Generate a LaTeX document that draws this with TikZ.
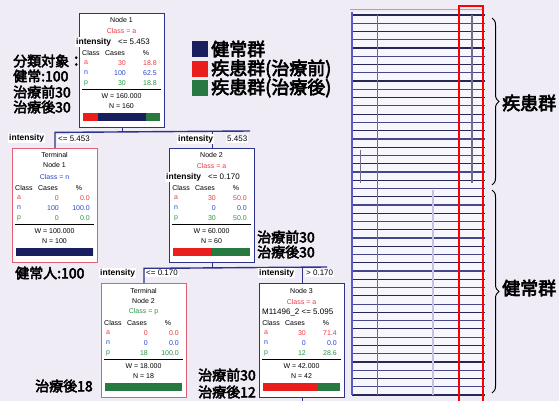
\documentclass[tikz,border=0pt]{standalone}
\usepackage{fontspec}
\setmainfont{Liberation Sans}
\newfontfamily\cjk[FakeBold=3.5]{Noto Sans CJK JP}
\usetikzlibrary{calc,decorations.pathreplacing}
\definecolor{bgc}{RGB}{240,236,246}
\definecolor{tabbg}{RGB}{247,246,252}
\definecolor{navyb}{RGB}{45,50,140}
\definecolor{termb}{RGB}{225,95,115}
\definecolor{tred}{RGB}{235,60,70}
\definecolor{tblue}{RGB}{40,70,210}
\definecolor{tgreen}{RGB}{40,150,70}
\definecolor{barred}{RGB}{235,30,30}
\definecolor{barnavy}{RGB}{25,30,95}
\definecolor{bargreen}{RGB}{40,120,65}
\definecolor{tabdark}{RGB}{40,40,85}
\definecolor{tablight}{RGB}{70,70,140}
\definecolor{tabedge}{RGB}{90,90,200}
\definecolor{tabtop}{RGB}{190,160,140}
\definecolor{tabvert}{RGB}{110,110,140}
\definecolor{tabfaint}{RGB}{195,195,225}

\tikzset{
  treebox/.style={draw, fill=white, minimum width=85pt, minimum height=114pt,
    anchor=north west, inner sep=0pt},
  inbox/.style={treebox, draw=navyb, line width=1.4pt},
  termbox/.style={treebox, draw=termb, line width=1pt},
  ntext/.style={font=\fontsize{7}{8}\selectfont, inner sep=0pt},
  numr/.style={ntext, anchor=east},
  splitlab/.style={fill=white, inner sep=1pt, anchor=west, font=\fontsize{8}{9}\selectfont},
  edgelab/.style={fill=white, inner sep=1pt, anchor=west, font=\fontsize{8}{9}\selectfont},
  edgebold/.style={edgelab, font=\bfseries\fontsize{8.5}{9}\selectfont},
  cjklab/.style={font=\cjk\fontsize{14}{15}\selectfont, inner sep=0pt, anchor=west},
  cjkbig/.style={font=\cjk\fontsize{18}{19}\selectfont, inner sep=0pt, anchor=west},
  conn/.style={draw=navyb, line width=1.4pt},
  legsq/.style={minimum size=16pt, inner sep=0pt, anchor=north west},
}

\newcommand\nodestats[9]{%
  \node[ntext] (#1-hc) at ($(#1.north west)+(12,40)$) {Class};
  \node[ntext] (#1-hk) at ($(#1.north west)+(36,40)$) {Cases};
  \node[ntext] (#1-hp) at ($(#1.north west)+(67,40)$) {\%};
  \node[ntext,text=tred] (#1-la) at ($(#1.north west)+(7,50)$) {a};
  \node[numr,text=tred] (#1-ca) at ($(#1.north west)+(47,50)$) {#2};
  \node[numr,text=tred] (#1-pa) at ($(#1.north west)+(78,50)$) {#3};
  \node[ntext,text=tblue] (#1-ln) at ($(#1.north west)+(7,60)$) {n};
  \node[numr,text=tblue] (#1-cn) at ($(#1.north west)+(47,60)$) {#4};
  \node[numr,text=tblue] (#1-pn) at ($(#1.north west)+(78,60)$) {#5};
  \node[ntext,text=tgreen] (#1-lp) at ($(#1.north west)+(7,70)$) {p};
  \node[numr,text=tgreen] (#1-cp) at ($(#1.north west)+(47,70)$) {#6};
  \node[numr,text=tgreen] (#1-pp) at ($(#1.north west)+(78,70)$) {#7};
  \draw[line width=0.8pt] ($(#1.north west)+(3,76)$) -- ($(#1.north west)+(82,76)$);
  \node[ntext] (#1-w) at ($(#1.north west)+(42.5,83)$) {W = #8};
  \node[ntext] (#1-nn) at ($(#1.north west)+(42.5,93)$) {N = #9};
}
\newcommand\nodebar[4]{%
  \coordinate (#1-b0) at ($(#1.north west)+(4,100)$);
  \fill[barred] (#1-b0) rectangle ++(#2,8);
  \fill[barnavy] ($(#1-b0)+(#2,0)$) rectangle ++(#3,8);
  \fill[bargreen] ($(#1-b0)+(#2+#3,0)$) rectangle ++(#4,8);
}

\begin{document}
\begin{tikzpicture}[x=1pt,y=-1pt]
\useasboundingbox (0,0) rectangle (559,401);
\fill[bgc] (0,0) rectangle (559,401);

% ---------- table on the right ----------
\fill[tabbg] (352,12) rectangle (485,395);
\draw[tabtop, line width=1pt] (350,10) -- (483,10);
\foreach \i in {0,2,...,46} \draw[tabdark, line width=1.2pt] (352,15+\i*8.26) -- (485,15+\i*8.26);
\foreach \i in {1,3,...,45} \draw[tablight, line width=1.2pt] (352,15+\i*8.26) -- (485,15+\i*8.26);
\draw[tabedge, line width=1.2pt] (352,12) -- (352,395);
\draw[tabvert, line width=1pt] (377,15) -- (377,395);
\draw[tabfaint, line width=2pt] (433,190) -- (433,395);
\draw[tabvert, line width=1.5pt] (472,15) -- (472,183);
\draw[tabvert, line width=1pt] (360,150) -- (360,183);
\draw[red, line width=1.5pt] (459,6) rectangle (483,410);
\draw[decorate, decoration={brace, amplitude=7pt}, line width=1pt] (492,18) -- (492,185);
\draw[decorate, decoration={brace, amplitude=7pt}, line width=1pt] (492,190) -- (492,393);
\node[cjkbig] (rl1) at (502,103) {疾患群};
\node[cjkbig] (rl2) at (502,288) {健常群};

% ---------- legend ----------
\node[legsq, fill=barnavy] (lg1) at (192,41) {};
\node[legsq, fill=barred] (lg2) at (192,61) {};
\node[legsq, fill=bargreen] (lg3) at (192,80) {};
\node[cjkbig] (lt1) at (211,49) {健常群};
\node[cjkbig] (lt2) at (211,69) {疾患群(治療前)};
\node[cjkbig] (lt3) at (211,88) {疾患群(治療後)};

% ---------- tree boxes ----------
\node[inbox] (n1) at (79,13) {};
\node[termbox] (t1) at (12,148) {};
\node[inbox] (n2) at (169,148) {};
\node[termbox] (t2) at (101,283) {};
\node[inbox] (n3) at (259,283) {};

% ---------- connectors ----------
\coordinate (h1) at ($(n1.south)+(0,4)$);
\coordinate (h1e) at (250,131);
\draw[conn] (n1.south) -- (h1);
\draw[conn] (t1.north) -- (t1.north |- h1) -- (h1e);
\draw[conn] (n2.north) -- (n2.north |- h1);
\coordinate (h2) at ($(n2.south)+(0,5)$);
\coordinate (h2e) at (327,267);
\draw[conn] (n2.south) -- (h2);
\draw[conn] (t2.north) -- (t2.north |- h2) -- (h2e);
\draw[conn] (n3.north) -- (n3.north |- h2);
\coordinate (n3out) at ($(n3.south)+(0,8)$);
\draw[conn] (n3.south) -- (n3out);

% ---------- edge labels ----------
\node[edgebold] (e1a) at (8,138) {intensity};
\node[edgelab] (e1b) at (57,139) {<= 5.453};
\node[edgebold] (e2a) at (177,139) {intensity};
\node[edgelab] (e2b) at (226,139) {5.453};
\node[edgebold] (e3a) at (99,273) {intensity};
\node[edgelab] (e3b) at (145,273) {<= 0.170};
\node[edgebold] (e4a) at (258,273) {intensity};
\node[edgelab] (e4b) at (305,273) {> 0.170};

% ---------- node contents ----------
% Node 1
\node[ntext] (n1-t) at ($(n1.north west)+(42.5,7)$) {Node 1};
\node[ntext,text=tred] (n1-c) at ($(n1.north west)+(42.5,18)$) {Class = a};
\node[splitlab] (n1-s) at ($(n1.north west)+(-4,29)$) {\textbf{\fontsize{8.5}{9}\selectfont intensity}\hspace{7pt}<= 5.453};
\nodestats{n1}{30}{18.8}{100}{62.5}{30}{18.8}{160.000}{160}
\nodebar{n1}{14.5}{48}{14.5}
% Terminal Node 1
\node[ntext] (t1-t) at ($(t1.north west)+(42.5,7)$) {Terminal};
\node[ntext] (t1-u) at ($(t1.north west)+(42.5,17)$) {Node 1};
\node[ntext,text=tblue] (t1-c) at ($(t1.north west)+(42.5,29)$) {Class = n};
\nodestats{t1}{0}{0.0}{100}{100.0}{0}{0.0}{100.000}{100}
\nodebar{t1}{0}{77}{0}
% Node 2
\node[ntext] (n2-t) at ($(n2.north west)+(42.5,7)$) {Node 2};
\node[ntext,text=tred] (n2-c) at ($(n2.north west)+(42.5,18)$) {Class = a};
\nodestats{n2}{30}{50.0}{0}{0.0}{30}{50.0}{60.000}{60}
\node[splitlab] (n2-s) at ($(n2.north west)+(-4,29)$) {\textbf{\fontsize{8.5}{9}\selectfont intensity}\hspace{7pt}<= 0.170};
\nodebar{n2}{38.5}{0}{38.5}
% Terminal Node 2
\node[ntext] (t2-t) at ($(t2.north west)+(42.5,8)$) {Terminal};
\node[ntext] (t2-u) at ($(t2.north west)+(42.5,18)$) {Node 2};
\node[ntext,text=tgreen] (t2-c) at ($(t2.north west)+(42.5,29)$) {Class = p};
\nodestats{t2}{0}{0.0}{0}{0.0}{18}{100.0}{18.000}{18}
\nodebar{t2}{0}{0}{77}
% Node 3
\node[ntext] (n3-t) at ($(n3.north west)+(42.5,8)$) {Node 3};
\node[ntext,text=tred] (n3-c) at ($(n3.north west)+(42.5,19)$) {Class = a};
\node[splitlab] (n3-s) at ($(n3.north west)+(2,29)$) {M11496\_2 <= 5.095};
\nodestats{n3}{30}{71.4}{0}{0.0}{12}{28.6}{42.000}{42}
\nodebar{n3}{55}{0}{22}

% ---------- Japanese annotations ----------
\node[cjklab] (a1) at (13,61) {分類対象：};
\node[cjklab] (a2) at (13,76) {健常:100};
\node[cjklab] (a3) at (13,92) {治療前30};
\node[cjklab] (a4) at (13,107) {治療後30};
\node[cjklab] (a5) at (15,273) {健常人:100};
\node[cjklab] (a6) at (257,237) {治療前30};
\node[cjklab] (a7) at (257,252) {治療後30};
\node[cjklab] (a8) at (35,386) {治療後18};
\node[cjklab] (a9) at (198,375) {治療前30};
\node[cjklab] (a10) at (198,392) {治療後12};
\end{tikzpicture}
\end{document}
